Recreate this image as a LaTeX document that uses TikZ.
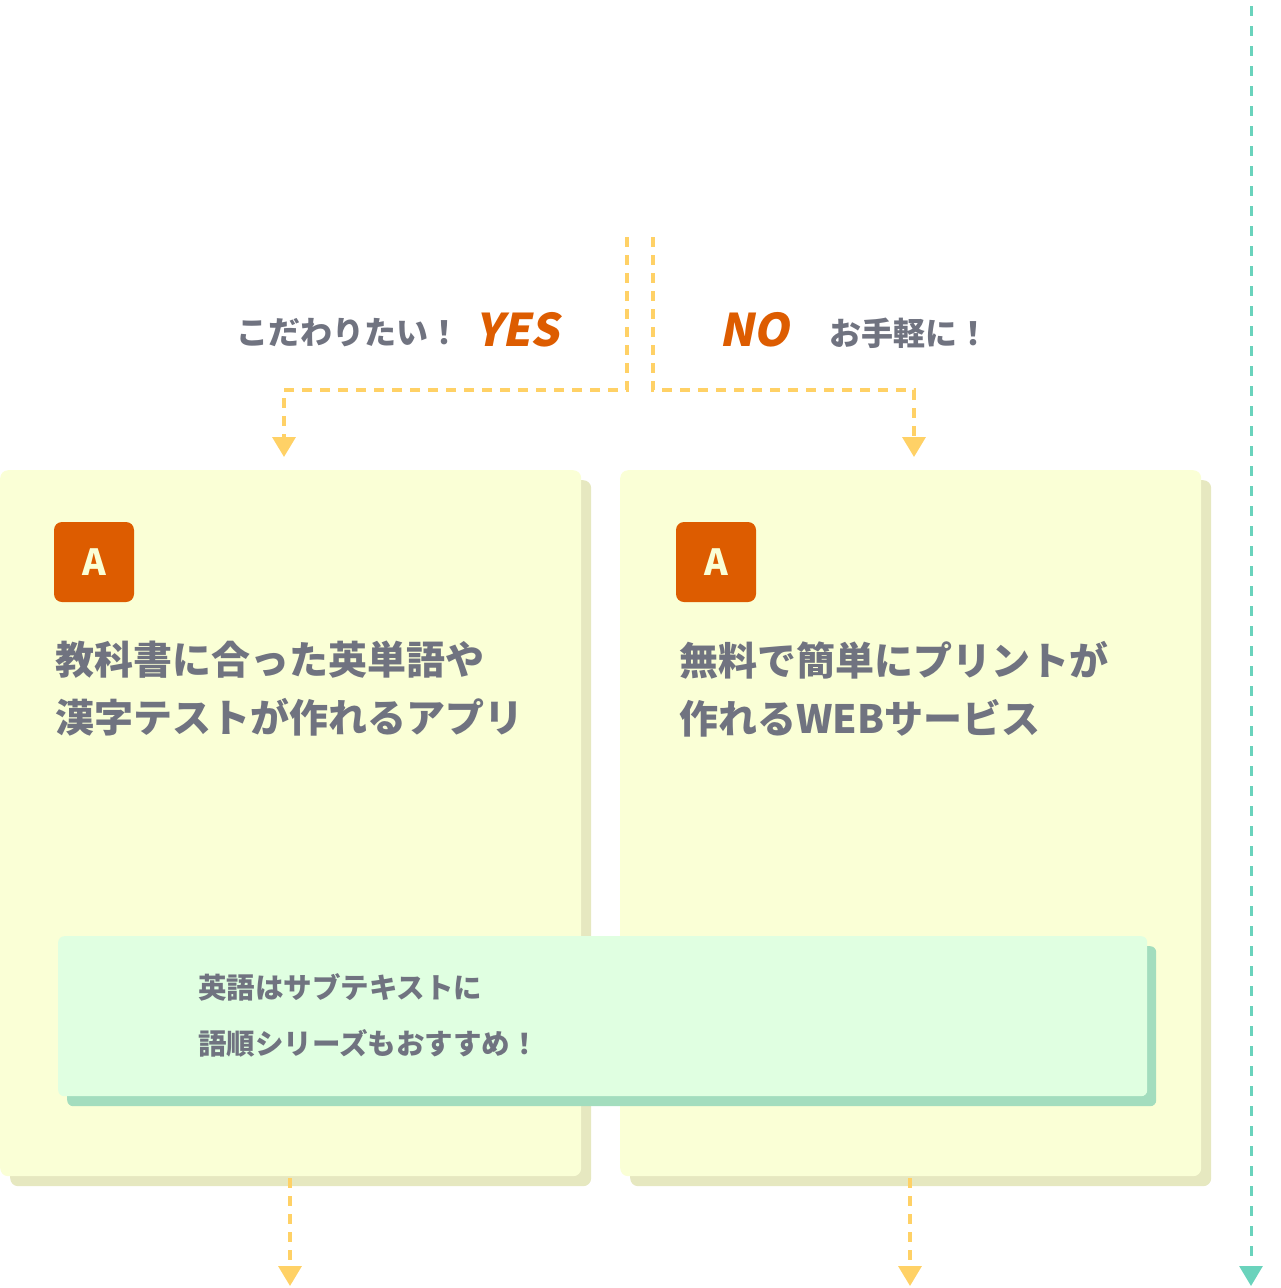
\documentclass[tikz,border=0pt]{standalone}
\usepackage{fontspec}
\newfontfamily\jp{Noto Sans CJK JP}
\newfontfamily\jpsl{Noto Sans CJK JP}[FakeSlant=0.2]
\usetikzlibrary{arrows.meta,shadows}
\definecolor{cardfill}{HTML}{FAFFD6}
\definecolor{cardshadow}{HTML}{E6E8C0}
\definecolor{notefill}{HTML}{E0FFE1}
\definecolor{noteshadow}{HTML}{A3DDBE}
\definecolor{accent}{HTML}{DD5C00}
\definecolor{flowy}{HTML}{FFD166}
\definecolor{flowg}{HTML}{6AD3BC}
\definecolor{txtgray}{HTML}{707380}
\tikzset{
  card/.style={fill=cardfill, rounded corners=8pt, inner sep=0pt, anchor=north west,
    minimum width=581pt, minimum height=706pt,
    general shadow={shadow xshift=10pt, shadow yshift=-10pt, fill=cardshadow}},
  notebox/.style={fill=notefill, rounded corners=6pt, inner sep=0pt, anchor=north west,
    minimum width=1089pt, minimum height=160pt,
    general shadow={shadow xshift=9pt, shadow yshift=-10pt, fill=noteshadow}},
  badge/.style={fill=accent, rounded corners=8pt, minimum size=80pt, inner sep=0pt,
    text=cardfill, font=\jp\bfseries\fontsize{36}{36}\selectfont},
  head/.style={text=txtgray, inner sep=0pt, anchor=west, font=\jp\bfseries\fontsize{32}{32}\selectfont},
  yn/.style={text=accent, inner sep=0pt, anchor=west, font=\jpsl\bfseries\fontsize{45}{45}\selectfont},
  body/.style={text=txtgray, inner sep=0pt, anchor=west, align=left, font=\jp\bfseries\fontsize{39}{58}\selectfont},
  notetext/.style={text=txtgray, inner sep=0pt, anchor=west, align=left, font=\jp\bfseries\fontsize{28.5}{56}\selectfont},
  ydash/.style={draw=flowy, line width=3.5pt, dash pattern=on 10pt off 8pt,
    -{Triangle[width=23pt,length=20pt]}},
  gdash/.style={draw=flowg, line width=3pt, dash pattern=on 10pt off 10pt, dash phase=14pt,
    -{Triangle[width=23pt,length=20pt]}},
}
\begin{document}
\begin{tikzpicture}[x=1pt,y=-1pt]
\useasboundingbox (0,0) rectangle (1280,1288);
% cards
\node[card] (cardL) at (0,470) {};
\node[card] (cardR) at (620,470) {};
% note box
\node[notebox] (note) at (58,936) {};
% badges
\node[badge] (badgeL) at (94,562) {A};
\node[badge] (badgeR) at (716,562) {A};
% texts
\node[head] (yesq) at (236,333) {こだわりたい！};
\node[yn] (yes) at (475,330) {YES};
\node[yn] (no) at (719,330) {NO};
\node[head] (noq) at (829,333) {お手軽に！};
\node[body] (bodyL) at (55,689) {教科書に合った英単語や\\漢字テストが作れるアプリ};
\node[body] (bodyR) at (679,689) {無料で簡単にプリントが\\作れるWEBサービス};
\node[notetext] (notet) at (198,1015) {英語はサブテキストに\\語順シリーズもおすすめ！};
% connectors
\coordinate (yesStart) at (627,237);
\coordinate (noStart) at (653,237);
\coordinate (yesEnd) at (284,457);
\coordinate (noEnd) at (914,457);
\coordinate (botL) at (290,1286);
\coordinate (botR) at (910,1286);
\coordinate (gTop) at (1251,0);
\coordinate (gEnd) at (1251,1286);
\draw[ydash] (yesStart) -- ++(0,153) -| (yesEnd);
\draw[ydash] (noStart) -- ++(0,153) -| (noEnd);
\draw[ydash] (cardL.south -| botL) ++(0,2) -- (botL);
\draw[ydash] (cardR.south -| botR) ++(0,2) -- (botR);
\draw[gdash] (gTop) -- (gEnd);
\end{tikzpicture}
\end{document}
